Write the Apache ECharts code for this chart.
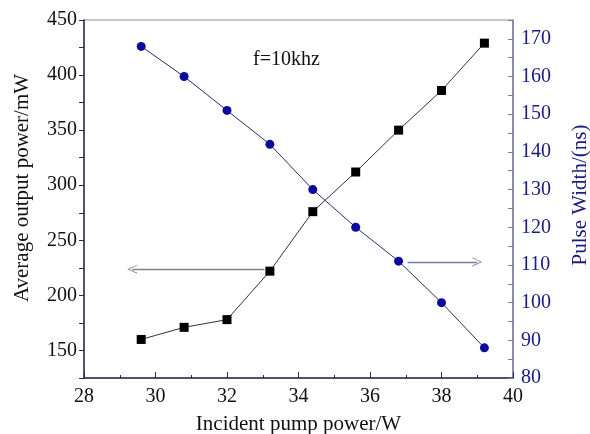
<!DOCTYPE html>
<html>
<head>
<meta charset="utf-8">
<script src="https://cdn.jsdelivr.net/npm/echarts@6/dist/echarts.min.js"></script>
<style>
    html, body { margin: 0; padding: 0; background: #fff; }
    #chart { width: 590px; height: 434px; }
</style>
</head>
<body>
<div id="chart"></div>
<script>
// 泵浦功率 (W)
var pumpPower = [29.6, 30.8, 32, 33.2, 34.4, 35.6, 36.8, 38, 39.2];
// 平均输出功率 (mW)
var outputPower = [160, 171, 178, 222, 276, 312, 350, 386, 429];
// 脉宽 (ns)
var pulseWidth = [168, 160, 151, 142, 130, 120, 111, 100, 88];

var serif = 'Liberation Serif';

function pairs(xs, ys) {
    var out = [];
    for (var i = 0; i < xs.length; i++) {
        out.push([xs[i], ys[i]]);
    }
    return out;
}

// 细箭头
var arrowHead = 'path://M0,10 L5,0 L10,10 L9,10 L5,1.8 L1,10 Z';

var myChart = echarts.init(document.getElementById('chart'));
var option = {
    animation: false,
    backgroundColor: '#fff',
    grid: {
        left: 84,
        right: 77,
        top: 20,
        bottom: 56,
        outerBoundsMode: 'none',
        containLabel: false,
        show: true,
        borderColor: '#8a8a9a',
        borderWidth: 1
    },
    graphic: [
        {
            type: 'text',
            left: 253,
            top: 50,
            style: { text: 'f=10khz', font: '20px ' + serif, fill: '#111' }
        }
    ],
    xAxis: {
        type: 'value',
        min: 28,
        max: 40,
        interval: 2,
        name: 'Incident pump power/W',
        nameLocation: 'middle',
        nameGap: 36,
        nameTextStyle: { fontFamily: serif, fontSize: 21, color: '#111' },
        axisLine: { lineStyle: { color: '#2a2a50', width: 1.5 } },
        axisTick: { inside: true, length: 6, lineStyle: { color: '#2a2a50' } },
        minorTick: { show: true, splitNumber: 2, length: 3, lineStyle: { color: '#2a2a50' } },
        axisLabel: { fontFamily: serif, fontSize: 20, color: '#111', margin: 9 },
        splitLine: { show: false }
    },
    yAxis: [
        {
            type: 'value',
            position: 'left',
            min: 125,
            max: 450,
            interval: 25,
            name: 'Average output power/mW',
            nameLocation: 'middle',
            nameRotate: 90,
            nameGap: 51,
            nameTextStyle: { fontFamily: serif, fontSize: 21, color: '#111', padding: [0, 0, 0, 22] },
            axisLine: { show: true, lineStyle: { color: '#2a2a50', width: 1.5 } },
            axisTick: { show: true, length: 5, lineStyle: { color: '#2a2a50' } },
            axisLabel: {
                fontFamily: serif, fontSize: 20, color: '#111', margin: 7,
                formatter: function (v) { return v % 50 === 0 ? v : ''; }
            },
            splitLine: { show: false }
        },
        {
            type: 'value',
            position: 'right',
            min: 80,
            max: 175,
            interval: 5,
            name: 'Pulse Width/(ns)',
            nameLocation: 'middle',
            nameRotate: 90,
            nameGap: 57,
            nameTextStyle: { fontFamily: serif, fontSize: 21, color: '#1a1a80', padding: [0, 0, 0, 8] },
            axisLine: { show: true, lineStyle: { color: '#7a7aa8', width: 1.5 } },
            axisTick: { show: true, inside: true, length: 5, lineStyle: { color: '#7a7aa8' } },
            axisLabel: {
                fontFamily: serif, fontSize: 20, color: '#1a1a80', margin: 8,
                formatter: function (v) { return v % 10 === 0 ? v : ''; }
            },
            splitLine: { show: false }
        }
    ],
    series: [
        {
            name: 'Average output power',
            type: 'line',
            yAxisIndex: 0,
            data: pairs(pumpPower, outputPower),
            symbol: 'rect',
            symbolSize: 9,
            itemStyle: { color: '#000' },
            lineStyle: { color: '#333', width: 1 },
            markLine: {
                silent: true,
                symbol: ['none', arrowHead],
                symbolSize: [9, 10],
                label: { show: false },
                lineStyle: { color: '#808080', width: 1.3, type: 'solid' },
                data: [[{ coord: [33.05, 223.8] }, { coord: [29.35, 223.8] }]]
            }
        },
        {
            name: 'Pulse Width',
            type: 'line',
            yAxisIndex: 1,
            data: pairs(pumpPower, pulseWidth),
            symbol: 'circle',
            symbolSize: 9,
            itemStyle: { color: '#0a0a9e' },
            lineStyle: { color: '#2a2a6a', width: 1 },
            markLine: {
                silent: true,
                symbol: ['none', arrowHead],
                symbolSize: [9, 10],
                label: { show: false },
                lineStyle: { color: '#7a7aa8', width: 1.3, type: 'solid' },
                data: [[{ coord: [37.05, 110.8] }, { coord: [39.0, 110.8] }]]
            }
        }
    ]
};
myChart.setOption(option);
</script>
</body>
</html>
